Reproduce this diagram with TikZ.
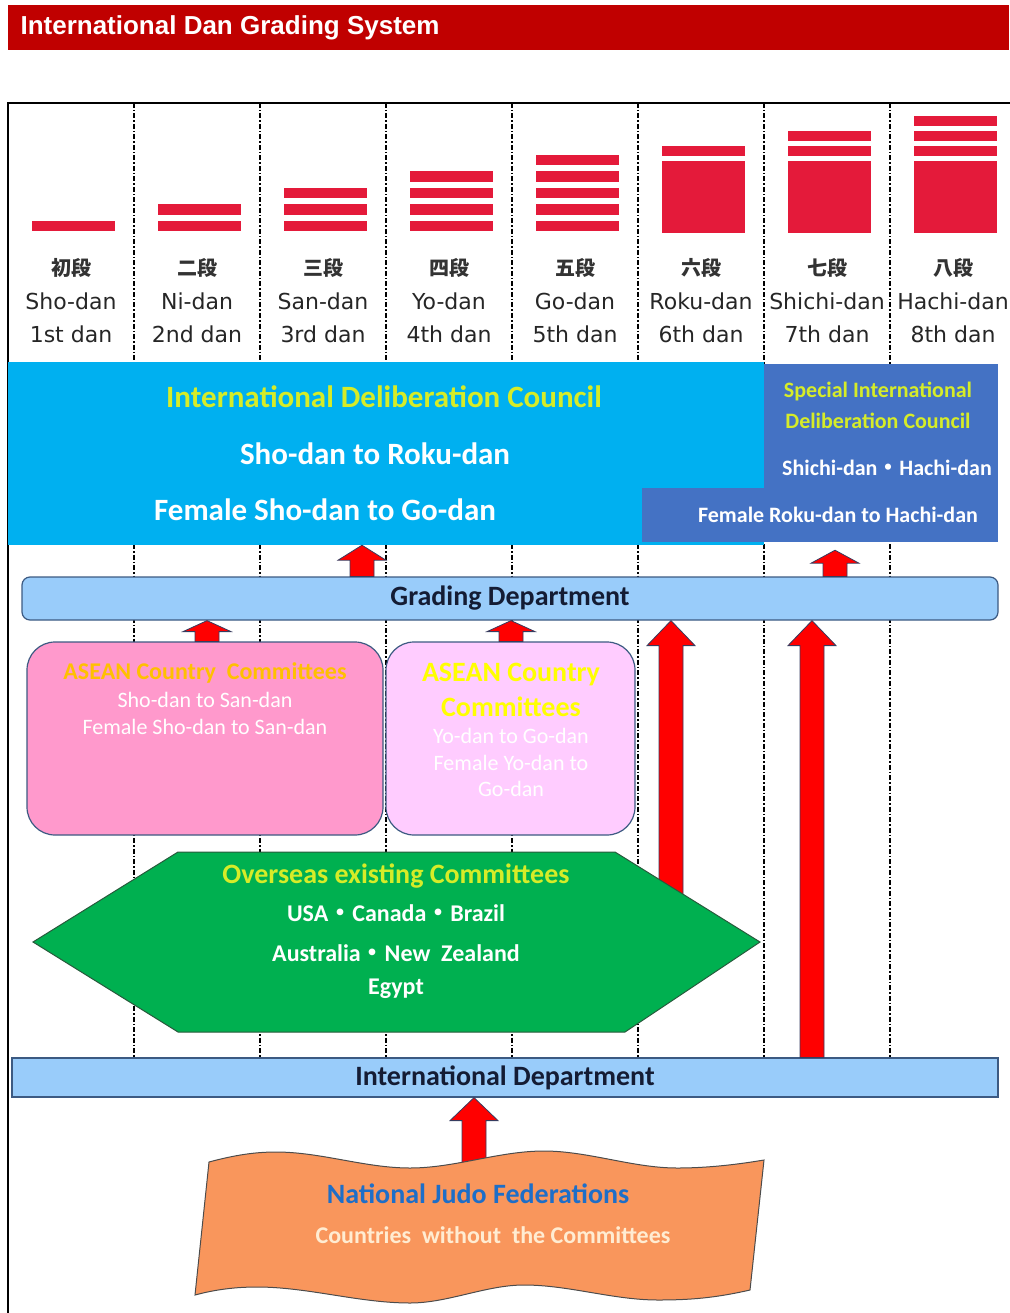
\documentclass[tikz,border=0pt]{standalone}
\usepackage{fontspec}
\setmainfont{Carlito}
\newfontfamily\danfont{DejaVu Sans}
\newfontfamily\cjkfont{Noto Sans CJK JP}
\newfontfamily\headfont{Liberation Sans}
\usetikzlibrary{calc}
\definecolor{headred}{RGB}{192,0,0}
\definecolor{beltred}{RGB}{228,26,58}
\definecolor{idcblue}{RGB}{0,176,240}
\definecolor{sidcblue}{RGB}{68,114,196}
\definecolor{idcyellow}{RGB}{214,236,40}
\definecolor{deptblue}{RGB}{153,204,250}
\definecolor{deptedge}{RGB}{60,90,130}
\definecolor{depttext}{RGB}{20,28,52}
\definecolor{aseanpink}{RGB}{255,153,204}
\definecolor{aseanlilac}{RGB}{255,204,255}
\definecolor{aseangold}{RGB}{255,192,0}
\definecolor{aseanyellow}{RGB}{255,255,0}
\definecolor{hexgreen}{RGB}{0,176,80}
\definecolor{hexedge}{RGB}{40,90,60}
\definecolor{waveorange}{RGB}{249,150,92}
\definecolor{njfblue}{RGB}{30,110,200}
\definecolor{njfcream}{RGB}{255,236,210}
\definecolor{arrowred}{RGB}{255,0,0}
\definecolor{arrowedge}{RGB}{55,60,95}

% block arrow pointing up: #1 tail, #2 tip, #3 head length
\newcommand{\blockup}[3]{%
  \draw[blockarrow] let \p1=#1, \p2=#2 in
    (\x1-12pt,\y1) -- (\x1-12pt,\y2-#3) -- (\x1-24pt,\y2-#3) -- (\x1,\y2)
    -- (\x1+24pt,\y2-#3) -- (\x1+12pt,\y2-#3) -- (\x1+12pt,\y1) -- cycle;}

\begin{document}
\begin{tikzpicture}[x=1pt,y=-1pt,
    danlabel/.style={font=\danfont\fontsize{22}{26}\selectfont, text=black!85},
    kanjilabel/.style={font=\cjkfont\bfseries\fontsize{20}{24}\selectfont, text=black!80},
    divider/.style={line width=1.5pt, dash pattern=on 5pt off 2pt on 1.5pt off 2pt},
    idctext/.style={font=\bfseries\fontsize{31}{36}\selectfont},
    sidctext/.style={font=\bfseries\fontsize{22}{26}\selectfont},
    deptbar/.style={draw=deptedge, line width=1.2pt, fill=deptblue, text=depttext,
      font=\bfseries\fontsize{28}{32}\selectfont, inner sep=0pt},
    aseanbox/.style={draw=deptedge, line width=1.2pt, rounded corners=28pt,
      minimum height=193pt, inner sep=0pt},
    aseanline/.style={text=white, font=\fontsize{22}{26}\selectfont},
    hextext/.style={text=white, font=\bfseries\fontsize{24}{28}\selectfont},
    blockarrow/.style={fill=arrowred, draw=arrowedge, line width=0.8pt},
  ]
  \useasboundingbox (0,0) rectangle (1009,1313);

  % Title banner
  \fill[headred] (8,5) rectangle (1009,50);
  \node[anchor=west, text=white, font=\headfont\bfseries\fontsize{26}{30}\selectfont]
    (title) at (17,28) {International Dan Grading System};

  % Frame and column dividers
  \draw[line width=1.5pt] (8,1320) -- (8,103) -- (1016,103);
  \foreach \x in {134,260,...,890}
    \draw[divider] (\x,103) -- (\x,1058);

  % Belt stripes, 1st to 5th dan
  \foreach \n in {1,...,5} {
    \foreach \j in {1,...,\n}
      \fill[beltred] ({73+126*(\n-1)-41.5},{221-16.6*(\j-1)}) rectangle ++(83,10.5);
  }
  % Belt blocks, 6th to 8th dan
  \foreach \n/\m in {6/1,7/2,8/3} {
    \fill[beltred] ({73+126*(\n-1)-41.5},161) rectangle ++(83,72);
    \foreach \j in {1,...,\m}
      \fill[beltred] ({73+126*(\n-1)-41.5},{146-15*(\j-1)}) rectangle ++(83,10);
  }

  % Grade names
  \foreach \n/\kj/\ro/\en in {1/初段/Sho-dan/1st dan, 2/二段/Ni-dan/2nd dan,
      3/三段/San-dan/3rd dan, 4/四段/Yo-dan/4th dan, 5/五段/Go-dan/5th dan,
      6/六段/Roku-dan/6th dan, 7/七段/Shichi-dan/7th dan, 8/八段/Hachi-dan/8th dan} {
    \node[kanjilabel] (kj\n) at ({71+126*(\n-1)},268) {\kj};
    \node[danlabel] (ro\n) at ({71+126*(\n-1)},301) {\ro};
    \node[danlabel] (en\n) at ({71+126*(\n-1)},334) {\en};
  }

  % Deliberation councils
  \node[fill=idcblue, minimum width=756pt, minimum height=183pt, inner sep=0pt]
    (idc) at (386,453.5) {};
  \node[fill=sidcblue, minimum width=234pt, minimum height=178pt, inner sep=0pt]
    (sidc) at (881,453) {};
  \fill[sidcblue] (642,488) rectangle (766,542);
  \node[idctext, text=idcyellow] (idc1) at (384,397) {International Deliberation Council};
  \node[idctext, text=white] (idc2) at (375,454) {Sho-dan to Roku-dan};
  \node[idctext, text=white] (idc3) at (325,510) {Female Sho-dan to Go-dan};
  \node[sidctext, text=idcyellow] (sidc1) at (878,391) {Special International};
  \node[sidctext, text=idcyellow] (sidc2) at (878,421) {Deliberation Council};
  \node[sidctext, text=white] (sidc3) at (887,468) {Shichi-dan{\cjkfont ・}Hachi-dan};
  \node[sidctext, text=white] (sidc4) at (838,515) {Female Roku-dan to Hachi-dan};

  % Grading Department
  \node[deptbar, rounded corners=8pt, minimum width=976pt, minimum height=43pt]
    (grading) at (510,598.5) {Grading Department};

  % ASEAN committees
  \node[aseanbox, fill=aseanpink, minimum width=356pt] (asean1) at (205,738.5) {};
  \node[aseanbox, fill=aseanlilac, minimum width=249pt] (asean2) at (510.5,738.5) {};
  \node[text=aseangold, font=\bfseries\fontsize{24}{28}\selectfont]
    (asean1t) at (205,673) {ASEAN Country~~Committees};
  \node[aseanline] (asean1a) at (205,700) {Sho-dan to San-dan};
  \node[aseanline] (asean1b) at (205,727) {Female Sho-dan to San-dan};
  \node[text=aseanyellow, font=\bfseries\fontsize{28}{32}\selectfont]
    (asean2t) at (511,675) {ASEAN Country};
  \node[text=aseanyellow, font=\bfseries\fontsize{28}{32}\selectfont]
    (asean2u) at (511,707) {Committees};
  \node[aseanline] (asean2a) at (511,736) {Yo-dan to Go-dan};
  \node[aseanline] (asean2b) at (511,763) {Female Yo-dan to};
  \node[aseanline] (asean2c) at (511,789) {Go-dan};

  % Arrows into the councils and the Grading Department
  \coordinate (upIdc) at (362,0);
  \coordinate (upSidc) at (835,0);
  \coordinate (upAsean1) at (207,0);
  \coordinate (upAsean2) at (511,0);
  \blockup{(grading.north -| upIdc)}{(idc.south -| upIdc)}{15pt}
  \blockup{(grading.north -| upSidc)}{($(sidc.south -| upSidc)+(0,8)$)}{13pt}
  \blockup{(asean1.north -| upAsean1)}{(grading.south -| upAsean1)}{11pt}
  \blockup{(asean2.north -| upAsean2)}{(grading.south -| upAsean2)}{11pt}

  % International Department
  \node[deptbar, minimum width=986pt, minimum height=39pt]
    (intl) at (505,1077.5) {International Department};

  % Long arrows
  \coordinate (hexTail) at (671,905);
  \coordinate (upIntl) at (812,0);
  \blockup{(hexTail)}{(grading.south -| hexTail)}{25pt}
  \blockup{(intl.north -| upIntl)}{(grading.south -| upIntl)}{25pt}

  % Overseas existing committees
  \draw[fill=hexgreen, draw=hexedge, line width=1pt]
    (33,942) -- (178,852) -- (615,852) -- (760,942) -- (625,1032) -- (178,1032) -- cycle;
  \node[text=idcyellow, font=\bfseries\fontsize{28}{32}\selectfont]
    (hex1) at (396,876) {Overseas existing Committees};
  \node[hextext] (hex2) at (396,913) {USA{\cjkfont ・}Canada{\cjkfont ・}Brazil};
  \node[hextext] (hex3) at (396,953) {Australia{\cjkfont ・}New~~Zealand};
  \node[hextext] (hex4) at (396,989) {Egypt};

  % National Judo Federations
  \coordinate (waveTail) at (474,1175);
  \blockup{(waveTail)}{(intl.south -| waveTail)}{23pt}
  \draw[fill=waveorange, draw=black!70, line width=1pt]
    (209,1162) .. controls (235,1155) and (255,1152) .. (276,1152)
    .. controls (321,1152) and (365,1168) .. (410,1168)
    .. controls (455,1168) and (499,1151) .. (544,1151)
    .. controls (588,1151) and (633,1168) .. (677,1168)
    .. controls (710,1168) and (740,1164) .. (764,1160)
    -- (750,1290)
    .. controls (715,1298) and (690,1300) .. (658,1300)
    .. controls (613,1300) and (569,1285) .. (524,1285)
    .. controls (486,1285) and (448,1303) .. (410,1303)
    .. controls (359,1303) and (308,1287) .. (257,1287)
    .. controls (230,1287) and (210,1291) .. (195,1295)
    -- cycle;
  \node[text=njfblue, font=\bfseries\fontsize{28}{32}\selectfont]
    (njf1) at (478,1194) {National Judo Federations};
  \node[text=njfcream, font=\bfseries\fontsize{24}{28}\selectfont]
    (njf2) at (493,1235) {Countries~~without~~the Committees};
\end{tikzpicture}
\end{document}
